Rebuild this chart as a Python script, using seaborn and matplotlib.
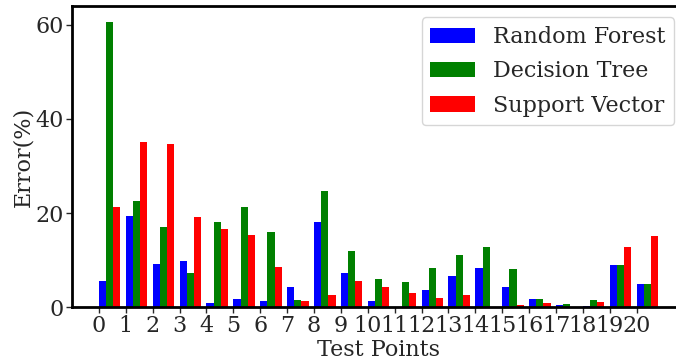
import numpy as np
import pandas as pd
import matplotlib
matplotlib.use("Agg")
import matplotlib.pyplot as plt
import seaborn as sns

# error (%) per test point
test_points = [str(i) for i in range(21)]
random_forest = [5.5, 19.4, 9.1, 9.8, 0.9, 1.7, 1.3, 4.3, 18.1, 7.2, 1.3,
                 0.0, 3.6, 6.6, 8.3, 4.3, 1.7, 0.4, 0.2, 8.9, 4.9]
decision_tree = [60.6, 22.6, 17.0, 7.2, 18.1, 21.3, 16.0, 1.5, 24.7, 11.9, 6.0,
                 5.3, 8.3, 11.1, 12.8, 8.1, 1.7, 0.6, 1.5, 8.9, 4.9]
support_vector = [21.3, 35.1, 34.7, 19.1, 16.6, 15.3, 8.5, 1.3, 2.6, 5.5, 4.3,
                  3.0, 2.0, 2.6, 0.0, 0.4, 0.9, 0.0, 1.1, 12.8, 15.1]
models = ["Random Forest", "Decision Tree", "Support Vector"]
colors = ["blue", "green", "red"]

df = pd.DataFrame({
    "point": test_points * 3,
    "model": np.repeat(models, len(test_points)),
    "error": random_forest + decision_tree + support_vector,
})

sns.set_style("white")
plt.rcParams.update({
    "font.family": "DejaVu Serif",
    "font.size": 16,
})

fig = plt.figure(figsize=(6.76, 3.6), dpi=100)
ax = fig.add_axes([0.1065, 0.147, 0.907, 0.836])

sns.barplot(data=df, x="point", y="error", hue="model", order=test_points,
            hue_order=models, palette=colors, saturation=1, width=0.8,
            errorbar=None, linewidth=0, ax=ax)

# ticks sit on the left edge of each group (first bar)
ax.set_xticks(np.arange(len(test_points)) - 0.4, test_points)
ax.set_xlim(-1.4, 21.4)
ax.set_ylim(0, 64)
ax.set_yticks([0, 20, 40, 60])
ax.set_xlabel("Test Points", fontsize=16, labelpad=1)
ax.set_ylabel("Error(%)", fontsize=16, labelpad=1)
ax.tick_params(axis="both", labelsize=16, length=4, width=1, direction="out",
               bottom=True, left=True, pad=2)

for side in ["left", "bottom", "top"]:
    ax.spines[side].set_linewidth(2)
    ax.spines[side].set_color("black")
ax.spines["right"].set_visible(False)

ax.legend(loc="upper right", fontsize=16, frameon=True, fancybox=True,
          framealpha=0.8, edgecolor="#cccccc", handlelength=2.0,
          labelspacing=0.55)

plt.savefig("out.png", dpi=100)
plt.close()
